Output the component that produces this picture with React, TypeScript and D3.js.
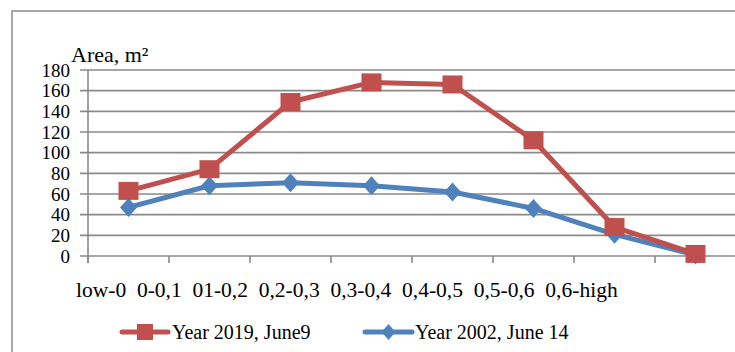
import React from "react";
import * as d3 from "d3";

const categories = ["low-0", "0-0,1", "01-0,2", "0,2-0,3", "0,3-0,4", "0,4-0,5", "0,5-0,6", "0,6-high"];
const series2019 = [63, 84, 149, 168, 166, 112, 28, 2];
const series2002 = [47, 68, 71, 68, 62, 46, 21, 1];
const yTicks = [0, 20, 40, 60, 80, 100, 120, 140, 160, 180];
const seriesNames = ["Year 2019, June9", "Year 2002, June 14"];

const W = 735;
const H = 352;
const FONT = "'Liberation Serif', 'Times New Roman', Times, serif";
const RED = "#C0504D";
const BLUE = "#4F81BD";
const GRID = "#8a8a8a";

export default function App() {
  const x = d3.scaleBand<string>().domain(categories).range([88, 736]);
  const y = d3.scaleLinear().domain([0, 180]).range([256, 70]);
  const cx = (c: string) => (x(c) as number) + x.bandwidth() / 2;

  const line = d3
    .line<number>()
    .x((_, i) => cx(categories[i]))
    .y((d) => y(d));

  const sq = 18;
  const diamond = (px: number, py: number, w: number, h: number) =>
    `M${px},${py - h / 2}L${px + w / 2},${py}L${px},${py + h / 2}L${px - w / 2},${py}Z`;

  const gap = "\u00A0\u00A0";
  const catString = categories.join(gap);

  return (
    <svg
      width={W}
      height={H}
      style={{ position: "absolute", left: 0, top: 0, background: "#fff" }}
      fontFamily={FONT}
    >
      <rect x={12} y={11} width={W + 20} height={H + 20} fill="#fff" stroke="#8c8c8c" strokeWidth={1.5} />

      {yTicks.map((t) => (
        <line key={t} x1={80} x2={736} y1={y(t)} y2={y(t)} stroke={GRID} strokeWidth={1.6} />
      ))}
      <line x1={88} x2={88} y1={y(180)} y2={y(0) + 7} stroke={GRID} strokeWidth={1.6} />
      {categories.map((c) => (
        <line key={c} x1={x(c) as number} x2={x(c) as number} y1={y(0)} y2={y(0) + 7} stroke={GRID} strokeWidth={1.6} />
      ))}

      {yTicks.map((t) => (
        <text key={t} x={70} y={y(t)} textAnchor="end" dominantBaseline="central" fontSize={19} fill="#000">
          {t}
        </text>
      ))}

      <text x={71} y={62} fontSize={22} fill="#000">
        Area, m²
      </text>

      <text x={76} y={297} fontSize={21.5} fill="#000">
        {catString}
      </text>

      <path d={line(series2002) || ""} fill="none" stroke={BLUE} strokeWidth={5} strokeLinejoin="round" />
      {series2002.map((v, i) => (
        <path key={i} d={diamond(cx(categories[i]), y(v), 17, 19)} fill={BLUE} />
      ))}

      <path d={line(series2019) || ""} fill="none" stroke={RED} strokeWidth={5} strokeLinejoin="round" />
      {series2019.map((v, i) => (
        <rect key={i} x={cx(categories[i]) - sq / 2 - 1} y={y(v) - sq / 2} width={sq + 2} height={sq} fill={RED} />
      ))}

      <line x1={122} x2={168} y1={332} y2={332} stroke={RED} strokeWidth={5} strokeLinecap="round" />
      <rect x={145 - 8} y={332 - 8} width={16} height={16} fill={RED} />
      <text x={172} y={339} fontSize={20} fill="#000">
        {seriesNames[0]}
      </text>

      <line x1={365} x2={412} y1={332} y2={332} stroke={BLUE} strokeWidth={5} strokeLinecap="round" />
      <path d={diamond(388.5, 332, 14, 16)} fill={BLUE} />
      <text x={415} y={339} fontSize={20} fill="#000">
        {seriesNames[1]}
      </text>
    </svg>
  );
}
